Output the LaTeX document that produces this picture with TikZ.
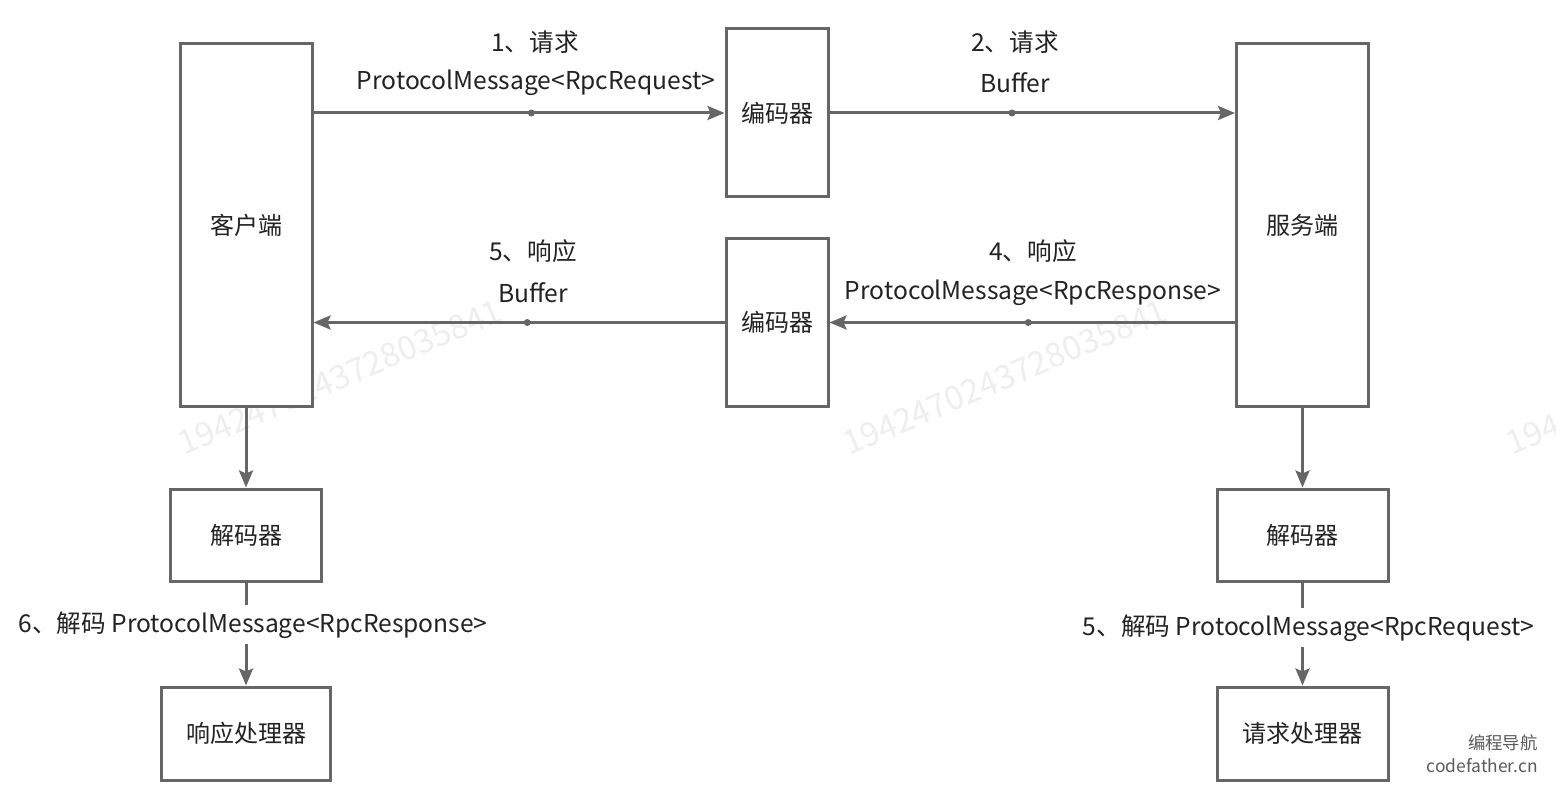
\documentclass[tikz,border=0pt]{standalone}
\usepackage{fontspec}
\setmainfont{Noto Sans CJK SC}
\usetikzlibrary{arrows.meta,positioning}
\definecolor{linegray}{RGB}{102,102,102}
\definecolor{txtdark}{RGB}{34,34,34}
\definecolor{wmgray}{RGB}{238,238,238}
\definecolor{brandgray}{RGB}{90,90,90}

\begin{document}
\begin{tikzpicture}[
      x=0.5pt, y=-0.5pt,
      block/.style={draw=linegray, line width=1.5pt, fill=white, minimum width=66pt, minimum height=181.5pt, font=\fontsize{12}{14}\selectfont, text=txtdark, inner sep=0pt},
      arrow/.style={-{Stealth[length=8.5pt,width=7pt,inset=1.5pt]}, draw=linegray, line width=1.5pt},
      lbl/.style={font=\fontsize{12.3}{14}\selectfont, text=txtdark, inner sep=1pt},
      dot/.style={circle, fill=linegray, inner sep=0pt, minimum size=3.5pt},
      wm/.style={font=\fontsize{16.5}{18}\selectfont, text=wmgray, rotate=23},
      brand/.style={font=\fontsize{8.7}{10}\selectfont, text=brandgray, anchor=east, inner sep=0pt}
    ]
      \useasboundingbox[fill=white] (0,0) rectangle (1556,790);

      % Watermark
      \begin{scope}
        \clip (0,0) rectangle (1556,790);
        \node[wm] (wm1) at (340,377) {1942470243728035841};
        \node[wm] (wm2) at (1005,377) {1942470243728035841};
        \node[wm] (wm3) at (1668,377) {1942470243728035841};
      \end{scope}

      % Client / server
      \node[block] (client) at (246,225.5) {客户端};
      \node[block] (server) at (1302.5,225.5) {服务端};

      % Encoders
      \node[block, minimum width=51pt, minimum height=84pt] (enc1) at (777,113) {编码器};
      \node[block, minimum width=51pt, minimum height=84pt] (enc2) at (777,322.5) {编码器};

      % Request path
      \draw[arrow] (client.east |- enc1) -- node[dot, pos=0.53] (d1) {} (enc1);
      \draw[arrow] (enc1) -- node[dot, pos=0.45] (d2) {} (server.west |- enc1);
      \node[lbl] (m1) at (536,83) {ProtocolMessage<RpcRequest>};
      \node[lbl] (s1) at (535,42) {1、请求};
      \node[lbl] (m2) at (1015,83) {Buffer};
      \node[lbl] (s2) at (1015,42) {2、请求};

      % Response path
      \draw[arrow] (server.west |- enc2) -- node[dot, pos=0.51] (d4) {} (enc2);
      \draw[arrow] (enc2) -- node[dot, pos=0.48] (d5) {} (client.east |- enc2);
      \node[lbl] (m4) at (1033,293) {ProtocolMessage<RpcResponse>};
      \node[lbl] (s4) at (1033,251) {4、响应};
      \node[lbl] (m5) at (533,293) {Buffer};
      \node[lbl] (s5) at (533,251) {5、响应};

      % Decoders
      \node[block, minimum width=75.5pt, minimum height=46pt, below=39.5pt of client] (dec1) {解码器};
      \node[block, minimum width=84.5pt, minimum height=46.5pt, below=51.5pt of dec1] (resp) {响应处理器};
      \node[block, minimum width=85.5pt, minimum height=46pt, below=39.5pt of server] (dec2) {解码器};
      \node[block, minimum width=85.5pt, minimum height=46.5pt, below=51.5pt of dec2] (req) {请求处理器};

      \draw[arrow] (client) -- (dec1);
      \draw[arrow] (dec1) -- node[lbl, fill=white, pos=0.41, inner sep=3pt, xshift=3.5pt] (dl1) {6、解码 ProtocolMessage<RpcResponse>} (resp);
      \draw[arrow] (server) -- (dec2);
      \draw[arrow] (dec2) -- node[lbl, fill=white, pos=0.44, inner sep=3pt, xshift=3pt] (dl2) {5、解码 ProtocolMessage<RpcRequest>} (req);

      % Brand
      \node[brand] (bn1) at (1538,743) {编程导航};
      \node[brand] (bn2) at (1538,766) {codefather.cn};
    \end{tikzpicture}
\end{document}
